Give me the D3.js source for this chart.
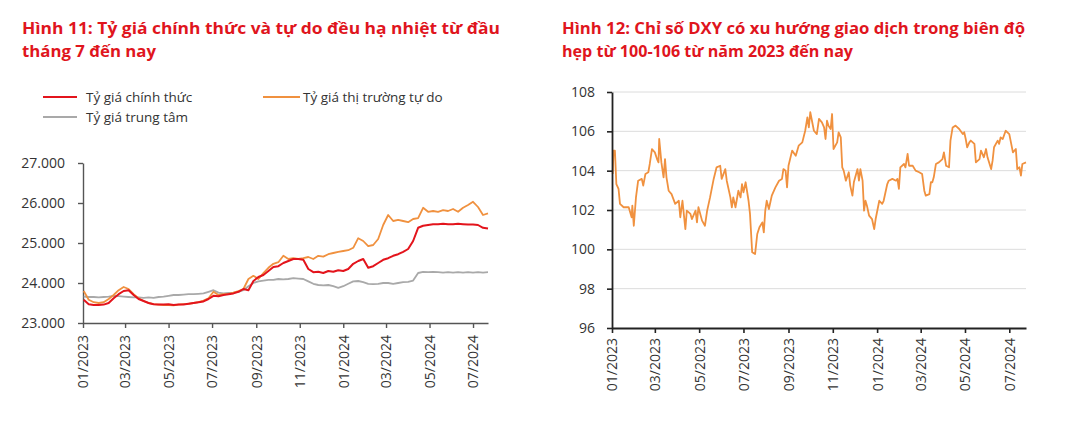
<!DOCTYPE html>
<html><head><meta charset="utf-8">
<script src="https://cdn.jsdelivr.net/npm/d3@7"></script>
<style>
html,body{margin:0;padding:0;background:#fff;}
svg{display:block;font-family:"Open Sans",sans-serif;}
</style></head>
<body><svg id="c" width="1084" height="435"></svg>
<script>
// ---------- DATA ----------
const leftTitle = ["Hình 11: Tỷ giá chính thức và tự do đều hạ nhiệt từ đầu", "tháng 7 đến nay"];
const rightTitle = ["Hình 12: Chỉ số DXY có xu hướng giao dịch trong biên độ", "hẹp từ 100-106 từ năm 2023 đến nay"];
const seriesNames = ["Tỷ giá chính thức", "Tỷ giá thị trường tự do", "Tỷ giá trung tâm"];
const leftFirstWeek = "2023-01-02"; // weekly observations
const officialRate = [
23580,23470,23450,23450,23460,23500,23620,23720,23800,23820,
23700,23600,23550,23500,23470,23460,23460,23470,23450,23460,
23460,23480,23500,23520,23540,23600,23680,23670,23700,23720,
23740,23780,23850,23820,24050,24150,24200,24300,24400,24420,
24500,24550,24600,24600,24580,24350,24270,24280,24250,24300,
24280,24320,24300,24350,24480,24550,24600,24380,24420,24500,
24580,24620,24680,24720,24780,24850,25050,25380,25430,25450,
25470,25470,25480,25470,25470,25480,25470,25460,25460,25450,
25380,25360];
const freeMarketRate = [
23800,23580,23520,23500,23520,23600,23700,23820,23900,23850,
23720,23620,23550,23500,23470,23460,23450,23450,23440,23460,
23470,23480,23500,23520,23560,23620,23780,23700,23720,23730,
23760,23800,23850,24100,24180,24100,24250,24380,24480,24520,
24680,24600,24620,24600,24620,24650,24600,24680,24660,24720,
24750,24780,24800,24820,24880,25120,25050,24920,24950,25100,
25450,25700,25550,25580,25550,25520,25600,25620,25880,25780,
25800,25780,25820,25800,25850,25780,25880,25950,26030,25900,
25700,25740];
const centralRate = [
23660,23650,23650,23640,23650,23660,23680,23670,23660,23650,
23640,23640,23630,23640,23630,23650,23660,23680,23700,23700,
23710,23720,23720,23730,23740,23780,23820,23760,23740,23750,
23760,23780,23820,23920,24000,24040,24060,24080,24080,24100,
24090,24100,24120,24110,24100,24040,23980,23950,23940,23950,
23920,23880,23920,23980,24040,24050,24020,23980,23970,23980,
24000,24000,23980,24000,24020,24030,24060,24250,24280,24270,
24280,24270,24260,24270,24260,24270,24260,24270,24260,24270,
24260,24270];
const leftYTicks = [23000, 24000, 25000, 26000, 27000];
const rightYTicks = [96, 98, 100, 102, 104, 106, 108];
const dxyBaseDate = "2023-01-01";
const dxyDays = [1,2,4,6,9,11,16,23,25,27,28,30,33,36,41,43,46,50,52,55,59,62,64,65,68,71,73,75,78,82,87,92,94,97,101,103,108,110,115,117,119,124,128,131,135,140,144,149,151,156,158,163,165,167,170,174,177,179,181,184,188,190,193,197,200,203,207,209,211,213,216,220,225,230,234,236,239,241,243,248,253,257,262,266,269,271,273,278,282,285,289,292,294,296,298,301,303,305,310,312,315,317,319,322,326,328,331,333,338,340,342,345,347,349,351,354,358,361,363,368,372,374,379,381,386,391,393,395,397,402,404,407,409,414,418,423,427,430,432,437,439,441,443,446,450,455,457,460,464,466,469,473,478,483,485,487,489,492,494,499,501,506,508,512,515,517,522,524,526,531,533,535,538,542,547,552,556,558,561,563,565,570];
const dxyValues = [103.83,105.02,105.02,103.32,103.07,102.31,102.14,102.14,101.88,101.63,102.22,101.20,102.64,103.49,103.58,103.24,103.83,103.92,104.34,105.10,104.93,104.59,104.42,105.61,104.42,103.66,104.59,103.66,102.98,102.81,102.31,102.47,101.63,102.47,101.03,101.97,101.80,101.54,101.97,101.37,102.14,101.46,101.20,101.97,102.64,103.58,104.17,104.25,103.58,104.08,103.49,102.64,102.14,102.64,102.14,102.98,102.64,103.32,102.90,103.41,102.47,101.80,99.85,99.76,100.78,101.12,101.37,100.86,101.97,102.47,102.05,102.73,103.15,103.49,103.58,104.08,104.00,103.15,104.25,105.02,104.76,105.27,105.44,106.03,106.71,106.20,106.97,106.03,105.86,106.63,106.46,106.20,105.61,106.54,106.29,106.12,106.88,105.10,105.44,105.95,105.69,104.17,104.00,103.49,103.92,103.24,102.73,103.41,104.08,103.49,104.08,103.49,101.97,102.47,102.22,101.71,101.54,101.03,101.54,102.47,102.31,102.47,103.32,103.49,103.58,103.49,103.58,103.07,104.17,104.34,104.17,104.85,104.25,104.25,104.00,103.92,103.83,102.98,102.73,102.81,103.41,103.41,103.66,104.34,104.42,104.59,104.93,104.25,104.17,105.53,106.20,106.29,106.12,105.86,105.95,105.61,105.19,105.44,105.53,105.36,104.42,104.59,105.02,104.68,105.10,104.68,104.08,104.51,105.19,105.53,105.36,105.69,105.61,106.03,105.86,104.93,105.10,104.08,104.17,103.75,104.34,104.42];
const xTickStart = "2023-01-01", xTickEnd = "2024-07-01";

// ---------- STYLE ----------
const RED = "#e3141c", ORANGE = "#f0913f", GRAY = "#a9a9a9", TITLE = "#e0151d", TXT = "#333";
const parse = d3.timeParse("%Y-%m-%d");
const svg = d3.select("#c");
const vn = d3.formatLocale({decimal: ",", thousands: ".", grouping: [3], currency: ["", ""]});
const fmtK = vn.format(",.0f");
const fmtM = d3.timeFormat("%m/%Y");
const xTicks = d3.timeMonth.every(2).range(parse(xTickStart), d3.timeDay.offset(parse(xTickEnd), 1));

function title(lines, x, widths) {
  lines.forEach((t, i) => {
    svg.append("text").attr("x", x).attr("y", 34 + i * 23)
      .attr("font-size", 16).attr("font-weight", 700).attr("fill", TITLE)
      .attr("textLength", widths[i]).attr("lengthAdjust", "spacingAndGlyphs")
      .text(t);
  });
}
title(leftTitle, 22, [478, 134]);
title(rightTitle, 562, [463, 291]);

// ---------- LEFT CHART ----------
const leftDates = officialRate.map((_, i) => d3.timeDay.offset(parse(leftFirstWeek), i * 7));
const xL = d3.scaleTime().domain([parse("2023-01-01"), parse("2024-07-22")]).range([83, 488]);
const yL = d3.scaleLinear().domain([23000, 27000]).range([323, 163]);

const gL = svg.append("g");
const axL = gL.append("g").attr("transform", "translate(83,0)")
  .call(d3.axisLeft(yL).tickValues(leftYTicks).tickFormat(fmtK).tickSize(5).tickPadding(13).tickSizeOuter(0));
const axLB = gL.append("g").attr("transform", "translate(0,323)")
  .call(d3.axisBottom(xL).tickValues(xTicks).tickFormat(fmtM).tickSize(5).tickSizeOuter(0));
axLB.selectAll("text").attr("transform", "rotate(-90)").attr("x", -12).attr("y", 0)
  .attr("dy", "0.35em").attr("text-anchor", "end");
[axL, axLB].forEach(a => {
  a.select(".domain").attr("stroke", "#555").attr("stroke-width", 1.4);
  a.selectAll(".tick line").attr("stroke", "#555").attr("stroke-width", 1.4);
  a.selectAll("text").attr("font-size", 14).attr("fill", TXT).attr("font-family", "Open Sans");
});

const lineL = d3.line().x((d, i) => xL(leftDates[i])).y(d => yL(d));
[[centralRate, GRAY], [freeMarketRate, ORANGE], [officialRate, RED]].forEach(([s, c]) => {
  gL.append("path").datum(s).attr("d", lineL).attr("fill", "none")
    .attr("stroke", c).attr("stroke-width", c === RED ? 2 : 1.8).attr("stroke-linejoin", "round");
});

// legend
const legend = [
  {name: seriesNames[0], color: RED, x: 43, y: 97},
  {name: seriesNames[1], color: ORANGE, x: 263, y: 97},
  {name: seriesNames[2], color: GRAY, x: 43, y: 117}
];
legend.forEach((d, i) => {
  svg.append("line").attr("x1", d.x).attr("x2", d.x + (i === 1 ? 37 : 34)).attr("y1", d.y).attr("y2", d.y)
    .attr("stroke", d.color).attr("stroke-width", 2);
  svg.append("text").attr("x", d.x + (i === 1 ? 40 : 43)).attr("y", d.y + 5)
    .attr("font-size", 13.5).attr("fill", TXT).text(d.name);
});

// ---------- RIGHT CHART ----------
const dxyDates = dxyDays.map(d => d3.timeDay.offset(parse(dxyBaseDate), d));
const xR = d3.scaleTime().domain([parse("2023-01-01"), parse("2024-07-24")]).range([612, 1026]);
const yR = d3.scaleLinear().domain([96, 108]).range([328, 92]);
const gR = svg.append("g");
gR.append("g").selectAll("line").data(rightYTicks.filter(v => v > 96)).join("line")
  .attr("x1", 612).attr("x2", 1026).attr("y1", d => yR(d)).attr("y2", d => yR(d))
  .attr("stroke", "#dcdcdc").attr("stroke-width", 1);
const lineR = d3.line().x((d, i) => xR(dxyDates[i])).y(d => yR(d));
gR.append("path").datum(dxyValues).attr("d", lineR).attr("fill", "none")
  .attr("stroke", ORANGE).attr("stroke-width", 1.8).attr("stroke-linejoin", "round");
const axR = gR.append("g").attr("transform", "translate(612,0)")
  .call(d3.axisLeft(yR).tickValues(rightYTicks).tickFormat(d3.format("d")).tickSize(5).tickPadding(12).tickSizeOuter(0));
const axRB = gR.append("g").attr("transform", "translate(0,328)")
  .call(d3.axisBottom(xR).tickValues(xTicks).tickFormat(fmtM).tickSize(5).tickSizeOuter(0));
axRB.selectAll("text").attr("transform", "rotate(-90)").attr("x", -10).attr("y", 0)
  .attr("dy", "0.35em").attr("text-anchor", "end");
[axR, axRB].forEach(a => {
  a.select(".domain").attr("stroke", "#222").attr("stroke-width", 1.8);
  a.selectAll(".tick line").attr("stroke", "#222").attr("stroke-width", 1.6);
  a.selectAll("text").attr("font-size", 14).attr("fill", TXT).attr("font-family", "Open Sans");
});
</script></body></html>
